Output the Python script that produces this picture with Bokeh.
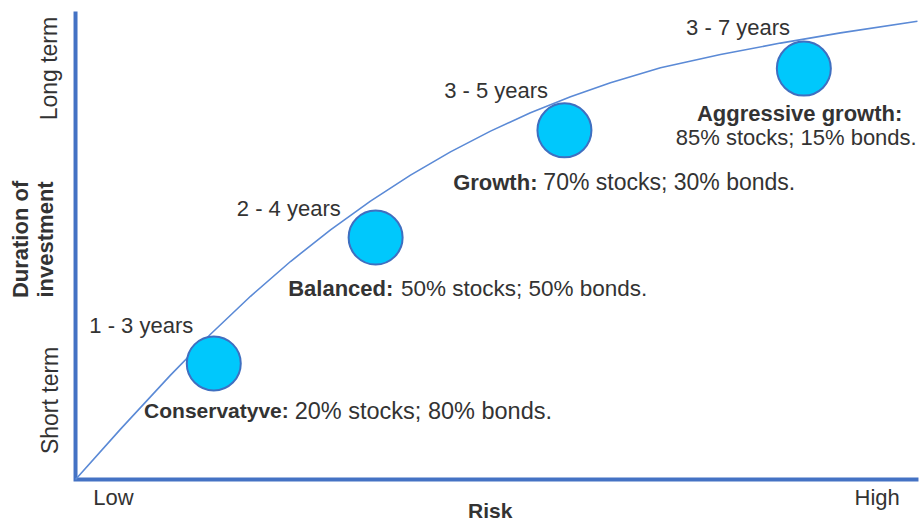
from bokeh.plotting import figure
from bokeh.models import Range1d, ColumnDataSource
from bokeh.core.properties import value
from bokeh.embed import file_html
from bokeh.resources import INLINE

# ---- data (risk 0..100, duration 0..100) ----
curve_risk = [0, 5.34, 11.27, 16.01, 20.76, 25.5, 30.25, 34.99, 39.74, 44.48, 49.23,
              53.97, 58.72, 63.46, 69.4, 76.51, 83.63, 90.75, 99.88]
curve_duration = [0, 10.77, 22.31, 31.03, 39.15, 46.58, 53.33, 59.49, 65.04, 70.0, 74.44,
                  78.38, 81.79, 84.79, 87.99, 90.81, 93.25, 95.43, 97.91]

profile_names = ["Conservatyve:", "Balanced:", "Growth:", "Aggressive growth:"]
profile_mix = ["20% stocks; 80% bonds.", "50% stocks; 50% bonds.",
               "70% stocks; 30% bonds.", "85% stocks; 15% bonds."]
horizons = ["1 - 3 years", "2 - 4 years", "3 - 5 years", "3 - 7 years"]
profile_risk = [16.4, 35.6, 58.0, 86.4]
profile_duration = [24.8, 51.7, 74.6, 87.8]

x_tick_labels = ["Low", "High"]
y_tick_labels = ["Short term", "Long term"]
x_title = "Risk"
y_title = ["Duration of", "investment"]

# ---- layout (positions / sizes of texts, in chart units) ----
horizon_x = [7.8, 25.3, 49.9, 78.6]
horizon_y = [32.9, 57.9, 83.1, 96.6]
name_x = [25.3, 37.7, 54.8, 85.9]
name_y = [14.7, 40.8, 63.5, 78.2]
name_align = ["right", "right", "right", "center"]
name_size = ["21px", "22px", "22px", "22px"]
mix_x = [26.0, 38.6, 55.5, 85.5]
mix_y = [14.7, 40.8, 63.5, 73.1]
mix_align = ["left", "left", "left", "center"]
mix_size = ["23.5px", "22.5px", "23px", "22px"]

FONT = value("Liberation Sans")
TXT = "#333333"
AXIS_C = "#4472c4"

p = figure(width=920, height=523, x_range=Range1d(-8.9, 100.24), y_range=Range1d(-9.4, 102.35),
           output_backend="svg", toolbar_location=None, min_border=0,
           x_axis_location=None, y_axis_location=None)
p.grid.visible = False
p.outline_line_color = None
p.background_fill_color = "white"
p.border_fill_color = "white"

# axes lines
p.line(x=[0, 0, 100], y=[100, 0, 0], line_width=4, line_color=AXIS_C, line_join="miter")

# curve
p.line(x=curve_risk, y=curve_duration, line_width=1.6, line_color="#5b8ad6")

# circles
p.scatter(x=profile_risk, y=profile_duration, size=54, marker="circle",
          fill_color="#00c8fc", line_color="#3f6fc0", line_width=2)

# horizon texts
src_h = ColumnDataSource(dict(x=horizon_x, y=horizon_y, t=horizons))
p.text(x="x", y="y", text="t", source=src_h, text_font=FONT, text_font_size=value("22px"),
       text_color=TXT, text_align="center", text_baseline="middle")

# profile names (bold)
src_n = ColumnDataSource(dict(x=name_x, y=name_y, t=profile_names, a=name_align, s=name_size))
p.text(x="x", y="y", text="t", source=src_n, text_font=FONT, text_font_size="s",
       text_font_style="bold", text_color=TXT, text_align="a", text_baseline="middle")

# profile mixes
src_m = ColumnDataSource(dict(x=mix_x, y=mix_y, t=profile_mix, a=mix_align, s=mix_size))
p.text(x="x", y="y", text="t", source=src_m, text_font=FONT, text_font_size="s",
       text_color=TXT, text_align="a", text_baseline="middle")

# axis tick texts
p.text(x=[4.5, 95.1], y=[-3.8, -3.8], text=x_tick_labels, text_font=FONT,
       text_font_size=value("22px"), text_color=TXT, text_align="center", text_baseline="middle")
p.text(x=[49.2], y=[-6.7], text=[x_title], text_font=FONT, text_font_style="bold",
       text_font_size=value("21px"), text_color=TXT, text_align="center", text_baseline="middle")
p.text(x=[-3.0, -3.2], y=[16.9, 87.8], text=y_tick_labels, angle=1.5707963, text_font=FONT,
       text_font_size=value("23px"), text_color=TXT, text_align="center", text_baseline="middle")
p.text(x=[-6.5, -3.6], y=[51.3, 51.3], text=y_title, angle=1.5707963, text_font=FONT,
       text_font_style="bold", text_font_size=value("22px"), text_color=TXT,
       text_align="center", text_baseline="middle")

open("out.html", "w").write(file_html(p, INLINE))
